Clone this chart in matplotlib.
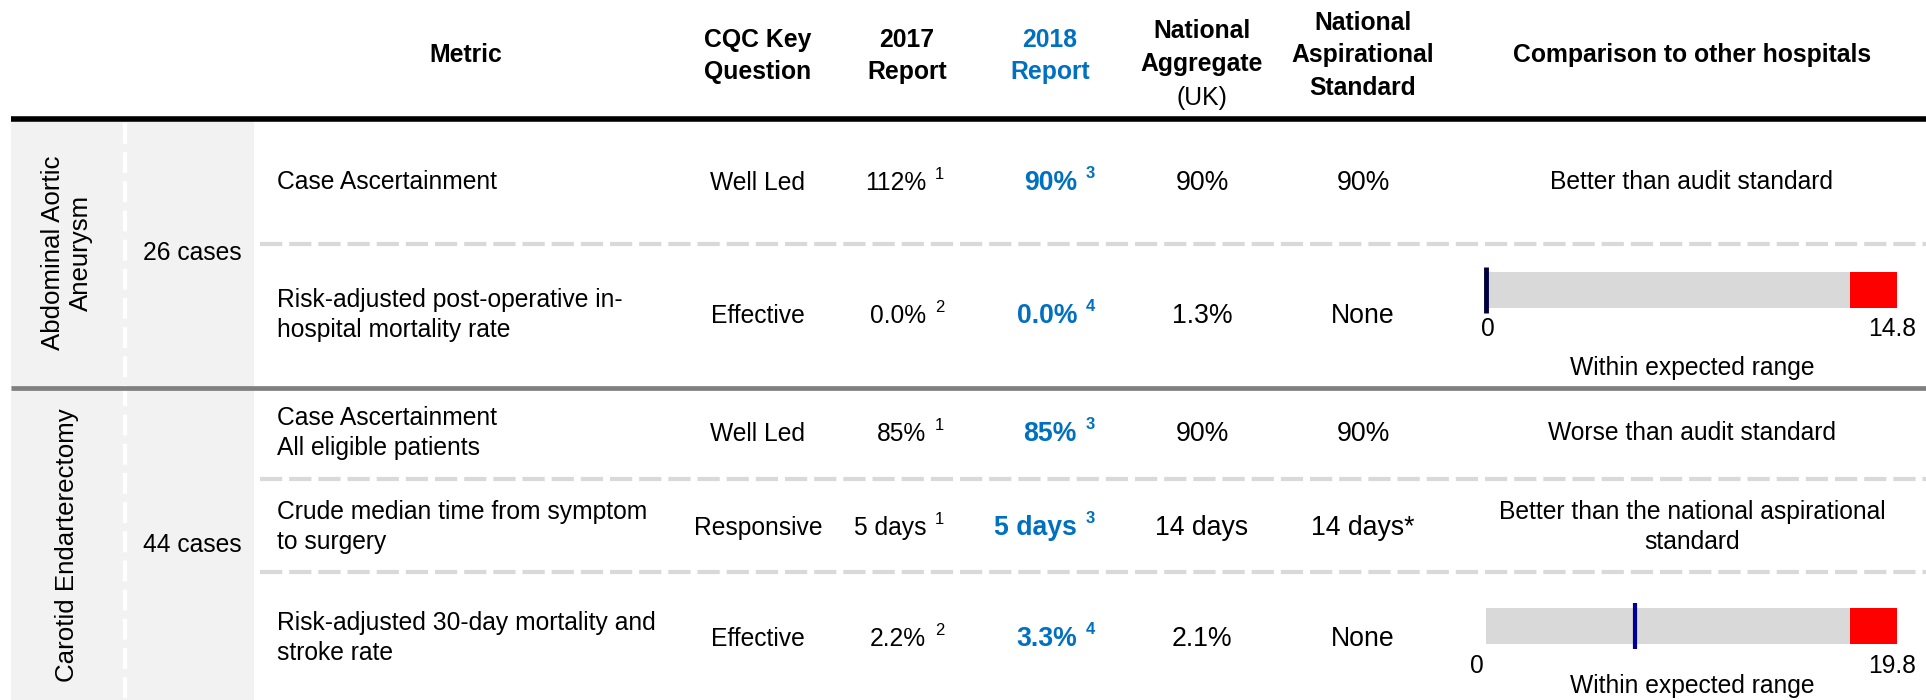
import matplotlib
matplotlib.use("Agg")
import matplotlib.pyplot as plt
from matplotlib.patches import Rectangle

plt.rcParams['font.family'] = ['Liberation Sans', 'DejaVu Sans']
plt.rcParams['lines.scale_dashes'] = False

# table data
groups = ["Abdominal Aortic\nAneurysm", "Carotid Endarterectomy"]
group_cases = ["26 cases", "44 cases"]
metrics = ["Case Ascertainment",
           "Risk-adjusted post-operative in-\nhospital mortality rate",
           "Case Ascertainment\nAll eligible patients",
           "Crude median time from symptom\nto surgery",
           "Risk-adjusted 30-day mortality and\nstroke rate"]
cqc_question = ["Well Led", "Effective", "Well Led", "Responsive", "Effective"]
report_2017 = ["112%", "0.0%", "85%", "5 days", "2.2%"]
notes_2017 = ["1", "2", "1", "1", "2"]
report_2018 = ["90%", "0.0%", "85%", "5 days", "3.3%"]
notes_2018 = ["3", "4", "3", "3", "4"]
national_agg = ["90%", "1.3%", "90%", "14 days", "2.1%"]
national_asp = ["90%", "None", "90%", "14 days*", "None"]
comparison = ["Better than audit standard", None, "Worse than audit standard",
              "Better than the national aspirational\nstandard", None]

# comparison bars (rows 2 and 5)
bar_rows = [1, 4]
bar_max = [14.8, 19.8]
bar_red_from = [13.1, 17.55]
bar_marker = [0.0, 7.2]
marker_colors = ["#00003a", "#000099"]

W, H = 1926, 700
BLUE = "#0070c0"
FS = 17.7
FS_BIG = 19.2
FS_HDR = 17.8

fig = plt.figure(figsize=(W / 100, H / 100), dpi=100)
ax = fig.add_axes([0, 0, 1, 1])
ax.set_xlim(0, W)
ax.set_ylim(H, 0)
ax.axis('off')

row_y = [182, 315, 433, 527, 638]
col_x = {"metric": 277, "cqc": 758, "y17": 926, "y18": 1077,
         "agg": 1202, "asp": 1363, "cmp": 1692}

# left grey panel with white dashed divider
ax.add_patch(Rectangle((11, 119), 243, H - 119, color="#f2f2f2", lw=0, zorder=0))
ax.plot([125, 125], [123, H], color="white", lw=3, dashes=(15, 6), zorder=1)

# rules
ax.plot([11, W], [119, 119], color="black", lw=4, solid_capstyle='butt', zorder=3)
ax.plot([11, W], [388, 388], color="#808080", lw=3.4, solid_capstyle='butt', zorder=3)
for yy in [244, 479, 572]:
    ax.plot([260, W], [yy, yy], color="#d9d9d9", lw=3, dashes=(16, 5), zorder=2)

# header
def hdr(x, lines, ys, color="black", weights=None):
    for i, (t, y) in enumerate(zip(lines, ys)):
        w = weights[i] if weights else "bold"
        ax.text(x, y, t, ha="center", va="center", fontsize=FS_HDR, fontweight=w, color=color)

hdr(466, ["Metric"], [55])
hdr(col_x["cqc"], ["CQC Key", "Question"], [40, 72])
hdr(907, ["2017", "Report"], [40, 72])
hdr(1050, ["2018", "Report"], [40, 72], color=BLUE)
hdr(col_x["agg"], ["National", "Aggregate", "(UK)"], [31, 64, 98],
    weights=["bold", "bold", "normal"])
hdr(col_x["asp"], ["National", "Aspirational", "Standard"], [23, 55, 88])
hdr(col_x["cmp"], ["Comparison to other hospitals"], [55])

# group labels
group_y = [253, 545]
for g, c, y in zip(groups, group_cases, group_y):
    ax.text(67, y, g, rotation=90, ha="center", va="center", fontsize=18.6,
            linespacing=1.25, multialignment="center")
    ax.text(192, y, c, ha="center", va="center", fontsize=FS)

def lines_at(x, y, text, ha="center", **kw):
    parts = text.split("\n")
    off = (len(parts) - 1) * 15
    for i, p in enumerate(parts):
        ax.text(x, y - off + i * 30, p, ha=ha, va="center", fontsize=FS, **kw)

def with_note(x, y, text, note, size, **kw):
    t = ax.text(x, y, text, ha="right", va="center", fontsize=size, **kw)
    ax.annotate(note, xy=(1, 1), xycoords=t, xytext=(9, 4), textcoords="offset pixels",
                ha="left", va="top", fontsize=12, **kw)

for i, y in enumerate(row_y):
    lines_at(col_x["metric"], y, metrics[i], ha="left")
    ax.text(col_x["cqc"], y + 1, cqc_question[i], ha="center", va="center", fontsize=FS)
    with_note(col_x["y17"], y + 1, report_2017[i], notes_2017[i], FS)
    with_note(col_x["y18"], y + 1, report_2018[i], notes_2018[i], FS_BIG,
              color=BLUE, fontweight="bold")
    ax.text(col_x["agg"], y + 1, national_agg[i], ha="center", va="center", fontsize=FS_BIG)
    ax.text(col_x["asp"], y + 1, national_asp[i], ha="center", va="center", fontsize=FS_BIG)
    if comparison[i]:
        lines_at(col_x["cmp"], y, comparison[i])

# comparison bars
bar_y = [290, 625.5]
label_y = [[329, 368], [666, 686]]
zero_x = [1488, 1477]
for k, r in enumerate(bar_rows):
    yc = bar_y[k]
    bax = fig.add_axes([1486 / W, 1 - (yc + 23) / H, (1897 - 1486) / W, 46 / H])
    bax.set_xlim(0, bar_max[k])
    bax.set_ylim(-0.5, 0.5)
    bax.axis('off')
    bax.barh(0, bar_red_from[k], height=36 / 46, color="#d9d9d9", lw=0)
    bax.barh(0, bar_max[k] - bar_red_from[k], left=bar_red_from[k],
             height=36 / 46, color="#ff0000", lw=0)
    bax.plot([bar_marker[k], bar_marker[k]], [-0.5, 0.5], color=marker_colors[k],
             lw=3.5 if k == 0 else 3, solid_capstyle='butt', clip_on=False)
    ax.text(zero_x[k], label_y[k][0], "0", ha="center", va="center", fontsize=FS)
    ax.text(1916, label_y[k][0], f"{bar_max[k]}", ha="right", va="center", fontsize=FS)
    ax.text(col_x["cmp"], label_y[k][1], "Within expected range", ha="center",
            va="center", fontsize=FS)

fig.savefig("out.png", dpi=100)
